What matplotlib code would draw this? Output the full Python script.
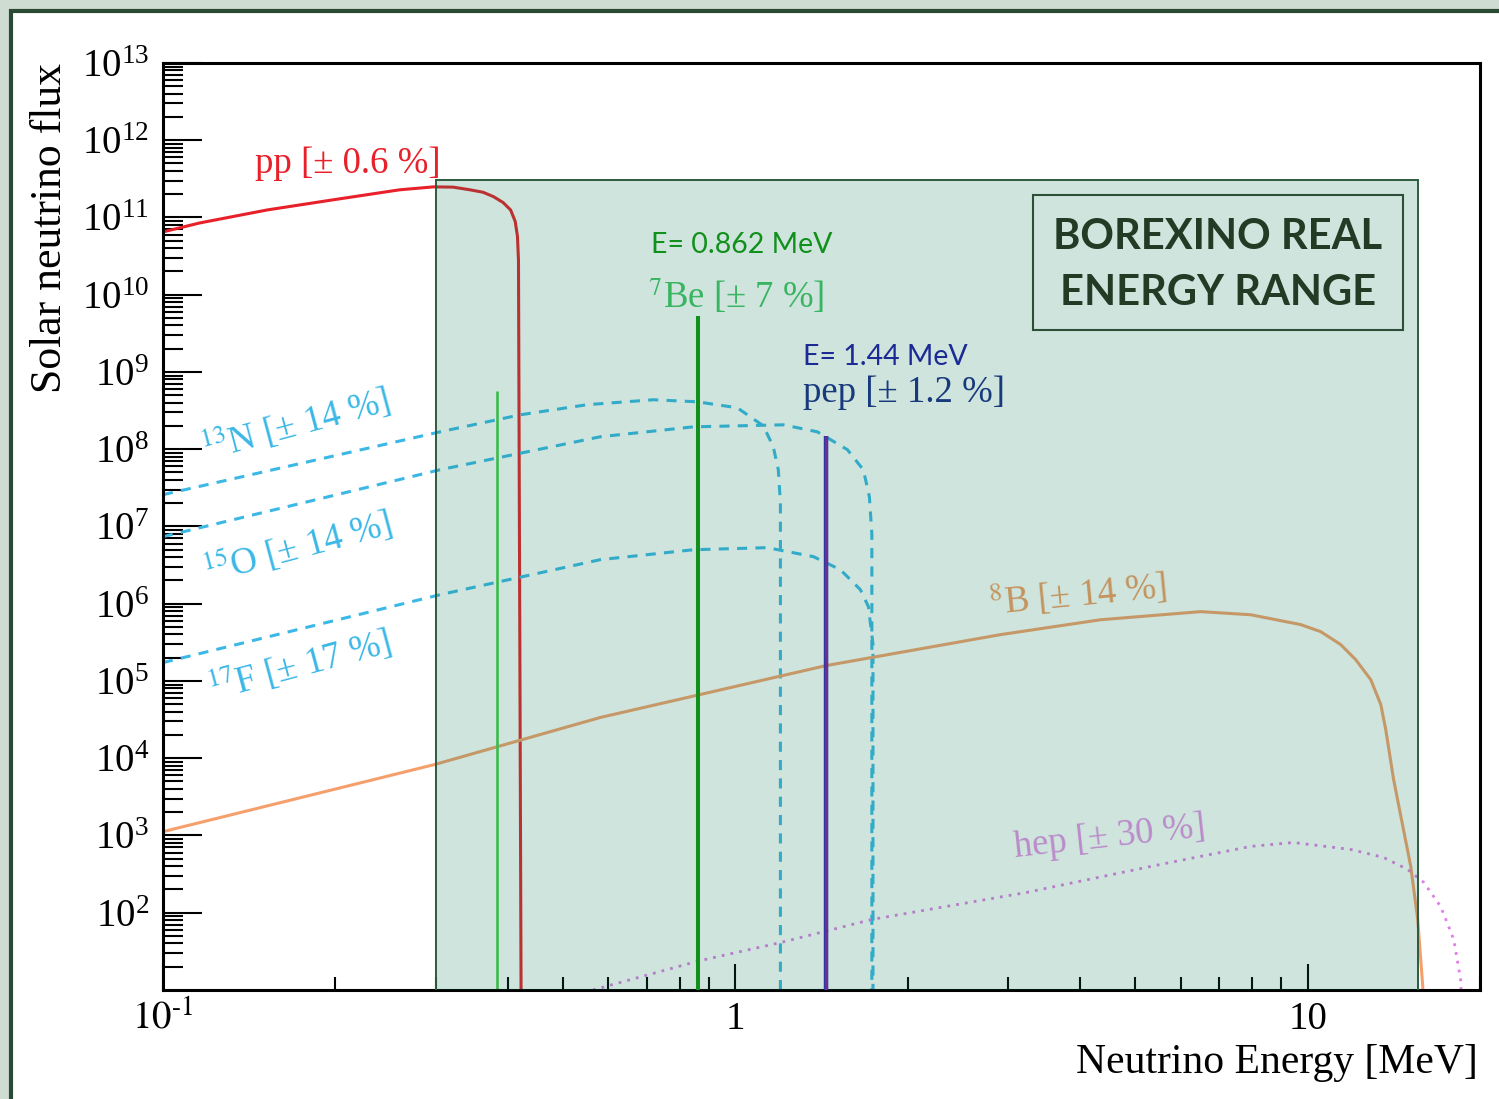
import numpy as np
import matplotlib.pyplot as plt
from matplotlib.patches import Rectangle
from matplotlib.ticker import LogLocator, NullFormatter

plt.rcParams["font.family"] = ["Liberation Serif", "DejaVu Serif"]
plt.rcParams["mathtext.fontset"] = "stix"

# solar neutrino spectra: energy [MeV] and flux
pp_E = [0.100, 0.116, 0.152, 0.198, 0.259, 0.297, 0.3214, 0.344, 0.3625, 0.378,
         0.393, 0.405, 0.4125, 0.4163, 0.418, 0.4225]
pp_F = [6.5e10, 8.5e10, 1.25e11, 1.69e11, 2.28e11, 2.49e11, 2.47e11, 2.28e11, 2.12e11,
        1.86e11, 1.56e11, 1.25e11, 8.9e10, 5.7e10, 2.8e10, 5]

n13_E = [0.100, 0.305, 0.421, 0.551, 0.719, 0.858, 1.008, 1.119, 1.165, 1.189, 1.199, 1.199]
n13_F = [2.58e7, 1.68e8, 2.79e8, 3.77e8, 4.37e8, 4.11e8, 3.44e8, 2.01e8, 1.08e8, 5.4e7, 2e7, 1]

o15_E = [0.100, 0.305, 0.581, 0.845, 1.213, 1.391, 1.570, 1.674, 1.715, 1.732, 1.732]
o15_F = [7.38e6, 5.43e7, 1.45e8, 1.95e8, 2.07e8, 1.68e8, 9.86e7, 5.4e7, 2.43e7, 8e6, 1]

f17_E = [0.100, 0.305, 0.581, 0.845, 1.137, 1.369, 1.526, 1.654, 1.708, 1.74, 1.74]
f17_F = [1.73e5, 1.31e6, 3.72e6, 5.0e6, 5.32e6, 4.07e6, 2.76e6, 1.52e6, 9.2e5, 3e5, 1]

b8_E = [0.1, 0.2985, 0.581, 1.44, 2.906, 4.345, 6.50, 7.95, 9.72, 10.54, 11.42, 12.13,
        12.89, 13.42, 13.69, 14.13, 15.14, 15.57, 15.89, 16.0]
b8_F = [1.12e3, 8.3e3, 3.37e4, 1.58e5, 3.98e5, 6.2e5, 7.9e5, 7.2e5, 5.37e5, 4.35e5,
        2.96e5, 1.89e5, 1.04e5, 4.95e4, 2.35e4, 5.3e3, 397, 82, 11, 1]

hep_E = [0.564, 0.862, 1.203, 1.44, 1.732, 3.226, 5.53, 7.95, 9.45, 11.89, 13.58, 14.95,
         15.95, 17.08, 18.0, 18.5, 18.77]
hep_F = [10, 23.7, 41.3, 57.8, 81.8, 183, 422, 722, 811, 659, 519, 363, 247, 120, 45, 13.7, 1]

# monoenergetic lines
be7_E = [0.384, 0.862]
be7_F = [5.7e8, 5.3e9]
pep_E = 1.44
pep_F = 1.5e8

# detector window
window_E = (0.3, 15.6)
window_top = 3.1e11

fig = plt.figure(figsize=(14.99, 10.99), dpi=100, facecolor="#cfdcd2")
fig.add_artist(Rectangle((0.0073, -0.05), 1.1, 1.04, transform=fig.transFigure,
                         facecolor="white", edgecolor="#2a4a33", linewidth=3, zorder=-1))

ax = fig.add_axes([0.1087, 0.0992, 0.8786, 0.8435])
ax.set_xscale("log")
ax.set_yscale("log")
ax.set_xlim(0.1, 20)
ax.set_ylim(10, 1e13)

cno = "#3cb8e6"
ax.plot(pp_E, pp_F, color="#e8202a", lw=2.2, zorder=2)
for E, F in [(n13_E, n13_F), (o15_E, o15_F), (f17_E, f17_F)]:
    ax.plot(E, F, color=cno, lw=2.2, ls=(0, (3.3, 2.7)), zorder=2)
ax.plot(b8_E, b8_F, color="#f5a06c", lw=2.2, zorder=2)
ax.plot(hep_E, hep_F, color="#e07de6", lw=2.0, ls=(0, (1, 2.2)), zorder=2)
ax.vlines(be7_E[0], 1, be7_F[0], color="#4aca4a", lw=1.9, zorder=2)

# labels drawn beneath the window overlay
lab = dict(transform=ax.transAxes, fontsize=26.5, va="baseline", ha="left",
           rotation_mode="anchor", zorder=2.5)
ax.text(0.0699, 0.8813, "pp [± 0.6 %]", color="#e8202a", **lab)
ax.text(0.0319, 0.5717, r"$^{13}$N [± 14 %]", color=cno, rotation=15, **lab)
ax.text(0.0334, 0.439, r"$^{15}$O [± 14 %]", color=cno, rotation=15, **lab)
ax.text(0.0372, 0.3128, r"$^{17}$F [± 17 %]", color=cno, rotation=15, **lab)
ax.text(0.3683, 0.7357, r"$^{7}$Be [± 7 %]", color="#45c466", **lab)
ax.text(0.486, 0.634, "pep [± 1.2 %]", color="#1c2a86", **lab)
ax.text(0.628, 0.4045, r"$^{8}$B [± 14 %]", color="#f39a60", rotation=5.5, **lab)
ax.text(0.647, 0.1435, "hep [± 30 %]", color="#e890e8", rotation=6.2, **lab)

# window overlay
ax.add_patch(Rectangle((window_E[0], 1), window_E[1] - window_E[0], window_top - 1,
                       facecolor="#0a7a55", alpha=0.2, edgecolor="none", zorder=4))
ax.add_patch(Rectangle((window_E[0], 1), window_E[1] - window_E[0], window_top - 1,
                       fill=False, edgecolor="#2d5a3c", lw=1.4, zorder=4.1))

ax.vlines(be7_E[1], 1, be7_F[1], color="#12901c", lw=2.9, zorder=5)
ax.vlines(pep_E, 1, pep_F, color="#2a35a8", lw=3.2, zorder=5)
ax.vlines(pep_E, 1, pep_F, color="#6a2e8e", lw=2.3, zorder=5.1)

sans = dict(transform=ax.transAxes, family=["Lato", "DejaVu Sans"], zorder=6)
ax.text(0.3705, 0.795, "E= 0.862 MeV", color="#12901c", fontsize=20.5,
        va="baseline", ha="left", **sans)
ax.text(0.486, 0.674, "E= 1.44 MeV", color="#1c2a96", fontsize=20.5,
        va="baseline", ha="left", **sans)

ax.add_patch(Rectangle((0.6606, 0.712), 0.9415 - 0.6606, 0.8576 - 0.712,
                       transform=ax.transAxes, fill=False, edgecolor="#2d4f38",
                       lw=1.5, zorder=6))
ax.text(0.801, 0.8123, "BOREXINO REAL", color="#213b25", fontsize=30,
        weight="bold", ha="center", va="center", **sans)
ax.text(0.801, 0.7519, "ENERGY RANGE", color="#213b25", fontsize=30,
        weight="bold", ha="center", va="center", **sans)

# axes, ROOT-like ticks
for s in ax.spines.values():
    s.set_linewidth(2.2)
ax.set_yticks(10.0 ** np.arange(2, 14))
ax.yaxis.set_minor_locator(LogLocator(base=10, subs=np.arange(2, 10), numticks=100))
ax.yaxis.set_minor_formatter(NullFormatter())
ax.set_xticks([0.1, 1, 10], labels=["$10^{\u2010 1}$", "1", "10"])
ax.xaxis.set_minor_locator(LogLocator(base=10, subs=np.arange(2, 10), numticks=100))
ax.xaxis.set_minor_formatter(NullFormatter())
ax.tick_params(axis="y", which="major", direction="in", length=28, width=1.5,
               labelsize=28, pad=10)
ax.tick_params(axis="y", which="minor", direction="in", length=14.5, width=1.5)
ax.tick_params(axis="x", which="major", direction="in", length=19, width=1.5,
               labelsize=28, pad=8)
ax.tick_params(axis="x", which="minor", direction="in", length=9.5, width=1.5)

ax.text(-0.0858, 1.0, "Solar neutrino flux", transform=ax.transAxes, rotation=90,
        fontsize=31.5, ha="center", va="top")
ax.text(0.9985, -0.0787, "Neutrino Energy [MeV]", transform=ax.transAxes,
        fontsize=30, ha="right", va="center")

fig.savefig("out.png", dpi=100, facecolor=fig.get_facecolor())
